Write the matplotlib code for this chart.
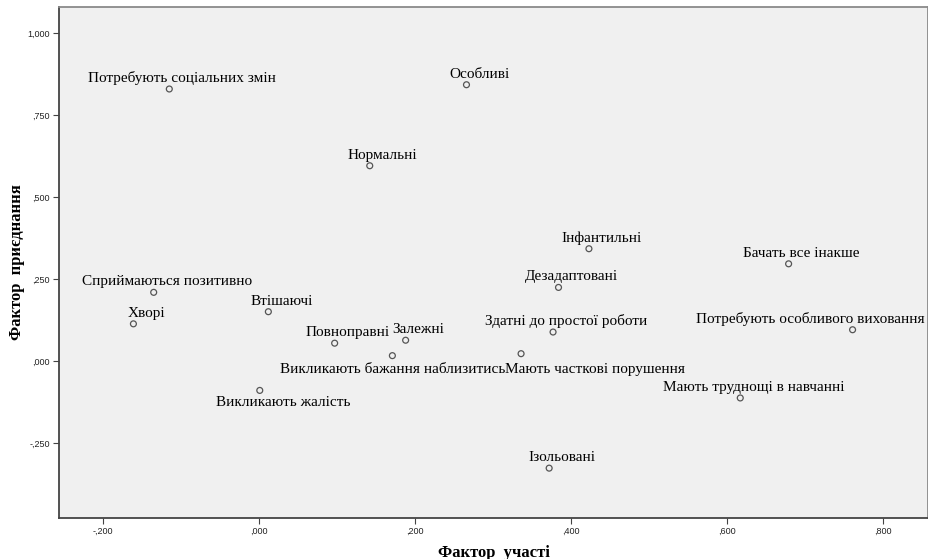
import matplotlib.pyplot as plt
from matplotlib.ticker import FixedLocator, FuncFormatter

# objects of the perception scale and their factor scores
labels = [
    "Потребують соціальних змін", "Особливі", "Нормальні", "Інфантильні",
    "Бачать все інакше", "Дезадаптовані", "Сприймаються позитивно", "Хворі",
    "Втішаючі", "Повноправні", "Залежні", "Викликають бажання наблизитись",
    "Здатні до простої роботи", "Мають часткові порушення",
    "Потребують особливого виховання", "Викликають жалість",
    "Мають труднощі в навчанні", "Ізольовані",
]
factor_participation = [
    -0.115, 0.266, 0.142, 0.423, 0.679, 0.384, -0.135, -0.161, 0.012,
    0.097, 0.188, 0.171, 0.377, 0.336, 0.761, 0.001, 0.617, 0.372,
]
factor_joining = [
    0.829, 0.842, 0.595, 0.342, 0.296, 0.224, 0.209, 0.113, 0.150,
    0.054, 0.063, 0.016, 0.088, 0.022, 0.095, -0.090, -0.113, -0.327,
]
x_ticks = [-0.2, 0.0, 0.2, 0.4, 0.6, 0.8]
y_ticks = [-0.25, 0.0, 0.25, 0.5, 0.75, 1.0]

# label placement (pixel offsets from the point, horizontal alignment)
default_place = (13, 7, "center")
special_place = {
    "Потребують особливого виховання": (72, 7, "right"),
    "Викликають жалість": (23, -16, "center"),
    "Викликають бажання наблизитись": (0, -17, "center"),
    "Мають часткові порушення": (-16, -19, "left"),
}


def spss_fmt(v, pos=None):
    s = f"{v:.3f}"
    if abs(v) < 1:
        s = s.replace("0.", ".", 1)
    return s.replace(".", ",")


fig = plt.figure(figsize=(9.29, 5.59), dpi=100)
ax = fig.add_axes([59 / 929, 41 / 559, 869 / 929, 511 / 559])
ax.set_facecolor("#f0f0f0")

ax.scatter(factor_participation, factor_joining, s=18, facecolors="none",
           edgecolors="#555555", linewidths=0.9, zorder=3)

for name, x, y in zip(labels, factor_participation, factor_joining):
    dx, dy, ha = special_place.get(name, default_place)
    ax.annotate(name, (x, y), xytext=(dx, dy), textcoords="offset pixels",
                ha=ha, va="baseline", fontsize=11,
                family="Liberation Serif", color="black")

ax.set_xlim(-0.2564, 0.8577)
ax.set_ylim(-0.479, 1.079)
ax.xaxis.set_major_locator(FixedLocator(x_ticks))
ax.yaxis.set_major_locator(FixedLocator(y_ticks))
ax.xaxis.set_major_formatter(FuncFormatter(spss_fmt))
ax.yaxis.set_major_formatter(FuncFormatter(spss_fmt))
ax.tick_params(length=4, width=0.8, color="#444444", labelsize=6.5,
               labelcolor="#222222", pad=2.5)
for lab in ax.get_xticklabels() + ax.get_yticklabels():
    lab.set_family("Liberation Sans")

for side in ["left", "bottom"]:
    ax.spines[side].set_color("#444444")
    ax.spines[side].set_linewidth(1.3)
for side in ["top", "right"]:
    ax.spines[side].set_color("#8a8a8a")
    ax.spines[side].set_linewidth(1.3)

ax.set_xlabel("Фактор  участі", fontsize=12, fontweight="bold",
              family="Liberation Serif")
ax.set_ylabel("Фактор  приєднання", fontsize=12, fontweight="bold",
              family="Liberation Serif")
ax.xaxis.set_label_coords(0.5, -0.052)
ax.yaxis.set_label_coords(-0.039, 0.5)

fig.savefig("out.png", dpi=100, facecolor="white")
